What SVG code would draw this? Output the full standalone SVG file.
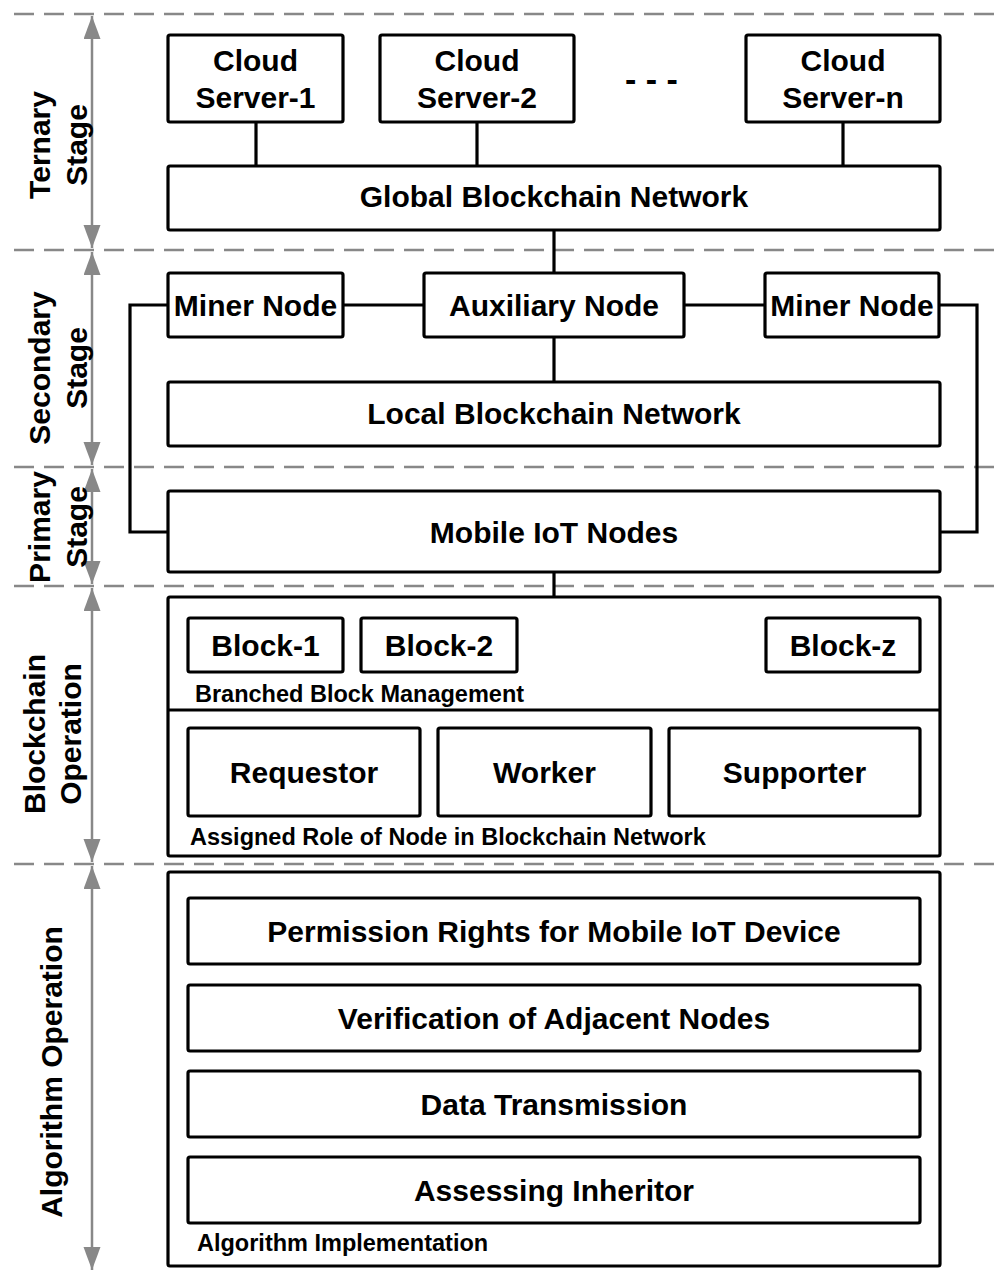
<svg xmlns="http://www.w3.org/2000/svg" width="1001" height="1273" viewBox="0 0 1001 1273">
<style>
.box{fill:#fff;stroke:#000;stroke-width:3.2;stroke-linejoin:round}
.con{fill:none;stroke:#000;stroke-width:3.2}
.dash{stroke:#888;stroke-width:2.5;stroke-dasharray:20 10}
.dim{stroke:#888;stroke-width:2.5;marker-start:url(#ah);marker-end:url(#ah)}
.t{font-family:"Liberation Sans",Arial,sans-serif;font-weight:bold;font-size:30px;fill:#000;text-anchor:middle}
.s{font-family:"Liberation Sans",Arial,sans-serif;font-weight:bold;font-size:23.5px;fill:#000}
</style>
<defs>
<marker id="ah" markerUnits="userSpaceOnUse" markerWidth="24" markerHeight="18" refX="23" refY="8.5" orient="auto-start-reverse" viewBox="0 0 24 18">
<path d="M0,0 L23,8.5 L0,17 Z" fill="#888"/>
</marker>
</defs>
<g id="separators">
<line class="dash" x1="14" y1="14" x2="1001" y2="14"/>
<line class="dash" x1="14" y1="250" x2="1001" y2="250"/>
<line class="dash" x1="14" y1="467" x2="1001" y2="467"/>
<line class="dash" x1="14" y1="586" x2="1001" y2="586"/>
<line class="dash" x1="14" y1="864" x2="1001" y2="864"/>
</g>
<g id="stage-arrows">
<line class="dim" x1="92" y1="16" x2="92" y2="248"/>
<line class="dim" x1="92" y1="252" x2="92" y2="465"/>
<line class="dim" x1="92" y1="469" x2="92" y2="584"/>
<line class="dim" x1="92" y1="588" x2="92" y2="862"/>
<line class="dim" x1="92" y1="866" x2="92" y2="1270"/>
</g>
<g id="stage-labels">
<text class="t" transform="translate(50,145) rotate(-90)">Ternary</text>
<text class="t" transform="translate(87,145) rotate(-90)">Stage</text>
<text class="t" transform="translate(50,368) rotate(-90)">Secondary</text>
<text class="t" transform="translate(87,368) rotate(-90)">Stage</text>
<text class="t" transform="translate(50,527) rotate(-90)">Primary</text>
<text class="t" transform="translate(87,527) rotate(-90)">Stage</text>
<text class="t" transform="translate(45,734) rotate(-90)">Blockchain</text>
<text class="t" transform="translate(81,734) rotate(-90)">Operation</text>
<text class="t" transform="translate(62,1072) rotate(-90)">Algorithm Operation</text>
</g>
<g id="connectors">
<line class="con" x1="256" y1="122" x2="256" y2="166"/>
<line class="con" x1="477" y1="122" x2="477" y2="166"/>
<line class="con" x1="843" y1="122" x2="843" y2="166"/>
<line class="con" x1="554" y1="230" x2="554" y2="273"/>
<line class="con" x1="343" y1="305" x2="424" y2="305"/>
<line class="con" x1="684" y1="305" x2="765" y2="305"/>
<line class="con" x1="554" y1="337" x2="554" y2="382"/>
<path class="con" d="M168,305 H130 V532 H168"/>
<path class="con" d="M939,305 H977 V532 H940"/>
<line class="con" x1="554" y1="572" x2="554" y2="597"/>
</g>
<g id="cloud-server-1">
<rect class="box" x="168" y="35" width="175" height="87" rx="2"/>
<text class="t" x="255.5" y="71">Cloud</text>
<text class="t" x="255.5" y="108">Server-1</text>
</g>
<g id="cloud-server-2">
<rect class="box" x="380" y="35" width="194" height="87" rx="2"/>
<text class="t" x="477" y="71">Cloud</text>
<text class="t" x="477" y="108">Server-2</text>
</g>
<g id="ellipsis">
<text class="t" style="font-size:34px" x="651.5" y="90.5">- - -</text>
</g>
<g id="cloud-server-n">
<rect class="box" x="746" y="35" width="194" height="87" rx="2"/>
<text class="t" x="843" y="71">Cloud</text>
<text class="t" x="843" y="108">Server-n</text>
</g>
<g id="global-blockchain">
<rect class="box" x="168" y="166" width="772" height="64" rx="2"/>
<text class="t" x="554" y="206.5">Global Blockchain Network</text>
</g>
<g id="miner-node-left">
<rect class="box" x="168" y="273" width="175" height="64" rx="2"/>
<text class="t" x="255.5" y="315.5">Miner Node</text>
</g>
<g id="auxiliary-node">
<rect class="box" x="424" y="273" width="260" height="64" rx="2"/>
<text class="t" x="554" y="315.5">Auxiliary Node</text>
</g>
<g id="miner-node-right">
<rect class="box" x="765" y="273" width="174" height="64" rx="2"/>
<text class="t" x="852" y="315.5">Miner Node</text>
</g>
<g id="local-blockchain">
<rect class="box" x="168" y="382" width="772" height="64" rx="2"/>
<text class="t" x="554" y="423.5">Local Blockchain Network</text>
</g>
<g id="mobile-iot">
<rect class="box" x="168" y="491" width="772" height="81" rx="2"/>
<text class="t" x="554" y="542.5">Mobile IoT Nodes</text>
</g>
<g id="blockchain-operation">
<rect class="box" x="168" y="597" width="772" height="259" rx="2"/>
<line class="con" x1="168" y1="710" x2="940" y2="710"/>
<text class="s" x="195" y="702">Branched Block Management</text>
<text class="s" x="190" y="845">Assigned Role of Node in Blockchain Network</text>
</g>
<g id="block-1">
<rect class="box" x="188" y="618" width="155" height="54" rx="2"/>
<text class="t" x="265.5" y="656">Block-1</text>
</g>
<g id="block-2">
<rect class="box" x="361" y="618" width="156" height="54" rx="2"/>
<text class="t" x="439" y="656">Block-2</text>
</g>
<g id="block-z">
<rect class="box" x="766" y="618" width="154" height="54" rx="2"/>
<text class="t" x="843" y="656">Block-z</text>
</g>
<g id="requestor">
<rect class="box" x="188" y="728" width="232" height="88" rx="2"/>
<text class="t" x="304" y="783">Requestor</text>
</g>
<g id="worker">
<rect class="box" x="438" y="728" width="213" height="88" rx="2"/>
<text class="t" x="544.5" y="783">Worker</text>
</g>
<g id="supporter">
<rect class="box" x="669" y="728" width="251" height="88" rx="2"/>
<text class="t" x="794.5" y="783">Supporter</text>
</g>
<g id="algorithm-operation">
<rect class="box" x="168" y="872" width="772" height="394" rx="2"/>
<text class="s" x="197" y="1251">Algorithm Implementation</text>
</g>
<g id="permission-rights">
<rect class="box" x="188" y="898" width="732" height="66" rx="2"/>
<text class="t" x="554" y="942">Permission Rights for Mobile IoT Device</text>
</g>
<g id="verification">
<rect class="box" x="188" y="985" width="732" height="66" rx="2"/>
<text class="t" x="554" y="1029">Verification of Adjacent Nodes</text>
</g>
<g id="data-transmission">
<rect class="box" x="188" y="1071" width="732" height="66" rx="2"/>
<text class="t" x="554" y="1115">Data Transmission</text>
</g>
<g id="assessing-inheritor">
<rect class="box" x="188" y="1157" width="732" height="66" rx="2"/>
<text class="t" x="554" y="1201">Assessing Inheritor</text>
</g>
</svg>
